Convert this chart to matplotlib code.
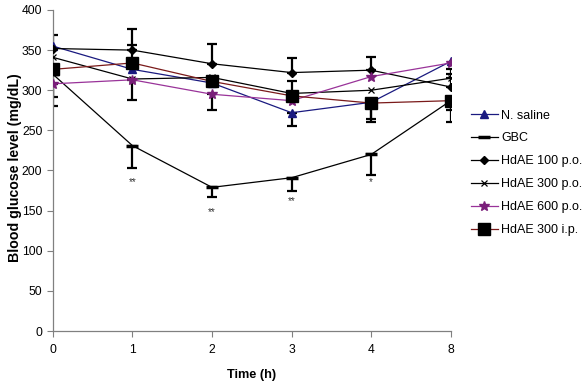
import numpy as np
import matplotlib
matplotlib.use("Agg")
import matplotlib.pyplot as plt

plt.rcParams['font.family'] = ['Liberation Sans', 'DejaVu Sans']

# time points (categorical) and series means (mg/dL)
times = ["0", "1", "2", "3", "4", "8"]
saline = [355, 326, 309, 272, 285, 336]
gbc = [320, 231, 179, 191, 220, 287]
hd100 = [352, 350, 333, 322, 325, 304]
hd300po = [341, 314, 316, 296, 300, 315]
hd600 = [308, 313, 295, 287, 317, 334]
hd300ip = [326, 334, 311, 293, 284, 287]

# error bars as (lower, upper)
saline_err = [[0, 0, 0, 17, 24, 0], [0, 0, 0, 0, 0, 0]]
gbc_err = [[0, 28, 12, 17, 26, 26], [0, 0, 0, 0, 0, 0]]
hd100_err = [[0, 0, 0, 0, 0, 0], [17, 26, 25, 18, 16, 16]]
hd300po_err = [[0, 0, 0, 0, 0, 0], [0, 0, 0, 0, 0, 12]]
hd600_err = [[16, 25, 19, 0, 0, 0], [0, 0, 0, 0, 0, 0]]
hd300ip_err = [[46, 0, 0, 0, 20, 12], [0, 22, 0, 18, 0, 0]]

# significance marks under GBC
stars = ["", "**", "**", "**", "*", ""]
star_y = [0, 185, 148, 162, 185, 0]

x = np.arange(len(times))

fig = plt.figure(figsize=(5.87, 3.84), dpi=100)
ax = fig.add_axes([0.090, 0.138, 0.678, 0.836])


def draw(vals, err, **kw):
    line, = ax.plot(x, vals, lw=0.9, zorder=3, **kw)
    lo, hi = np.array(err)
    m = (lo > 0) | (hi > 0)
    ax.errorbar(x[m], np.array(vals)[m], yerr=[lo[m], hi[m]], fmt="none",
                ecolor="black", elinewidth=1.6, capsize=3.5, capthick=1.6, zorder=2)
    return line


handles = [
    draw(saline, saline_err, color="#1a1a80", marker="^", ms=6, label="N. saline"),
    draw(gbc, gbc_err, color="black", marker="_", ms=8, mew=2.5, label="GBC"),
    draw(hd100, hd100_err, color="black", marker="D", ms=4, label="HdAE 100 p.o."),
    draw(hd300po, hd300po_err, color="black", marker="x", ms=5, mew=0.9, label="HdAE 300 p.o."),
    draw(hd600, hd600_err, color="#993399", marker="*", ms=7, mfc="#7a1f7a", mec="#7a1f7a",
         label="HdAE 600 p.o."),
    draw(hd300ip, hd300ip_err, color="#7a1a1a", marker="s", ms=8, mfc="black", mec="black",
         label="HdAE 300 i.p."),
]

for xi, s, yy in zip(x, stars, star_y):
    if s:
        ax.text(xi, yy, s, ha="center", va="center", fontsize=7, color="#333333")

ax.set_xlim(0, 5)
ax.set_ylim(0, 400)
ax.set_xticks(x)
ax.set_xticklabels(times)
ax.set_yticks(range(0, 401, 50))
ax.tick_params(axis="both", labelsize=8.7, length=4, width=0.8, color="#808080")
ax.tick_params(axis="y", pad=3.5)
ax.tick_params(axis="x", pad=5)
for side in ["top", "right"]:
    ax.spines[side].set_visible(False)
for side in ["left", "bottom"]:
    ax.spines[side].set_color("#808080")
    ax.spines[side].set_linewidth(0.9)

fig.text(252 / 587, 1 - 375 / 384, "Time (h)", fontsize=9.2, fontweight="bold",
         ha="center", va="center")
fig.text(15.5 / 587, 1 - 168 / 384, "Blood glucose level (mg/dL)", fontsize=10.2,
         fontweight="bold", rotation=90, ha="center", va="center")

ax.legend(handles=handles, loc="upper left", bbox_to_anchor=(1.05, 0.69), frameon=False,
          fontsize=9, handlelength=2.15, handletextpad=0.3, labelspacing=0.87,
          borderaxespad=0, borderpad=0)

fig.savefig("out.png", dpi=100)
